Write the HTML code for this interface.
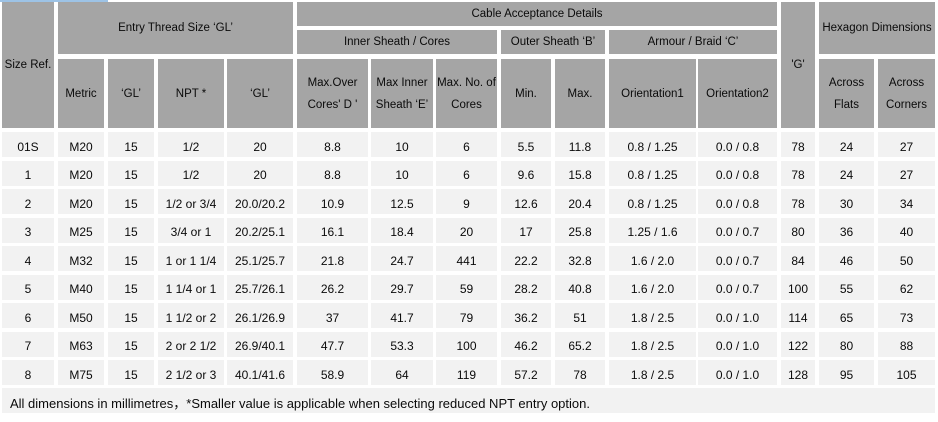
<!DOCTYPE html>
<html><head><meta charset="utf-8"><style>
body{margin:0;background:#fff;width:938px;height:422px;position:relative;overflow:hidden;font-family:"Liberation Sans",sans-serif;color:#0a0a0a}
.c{position:absolute;display:flex;align-items:center;justify-content:center;text-align:center;box-sizing:border-box}
.h{background:#a5a5a5;font-size:11.5px;line-height:22px}
.r{position:absolute;left:0;width:938px;height:25px}
.r .c{top:0;height:25px;background:#f2f2f2;font-size:12px;padding-top:4px}
.k0{left:2px;width:52px}.k1{left:58px;width:46px}.k2{left:108px;width:46px}.k3{left:158px;width:66px}.k4{left:227px;width:66px}
.k5{left:297px;width:71px}.k6{left:371px;width:62px}.k7{left:436px;width:61px}.k8{left:501px;width:50px}.k9{left:555px;width:50px}
.k10{left:609px;width:87px}.k11{left:698px;width:79px}.k12{left:781px;width:34px}.k13{left:819px;width:55px}.k14{left:878px;width:57px}
</style></head><body>
<div style="position:absolute;left:0;top:0;width:108px;height:2px;background:#9dc3e6"></div>
<div class="c h k0" style="top:2px;height:126px">Size Ref.</div>
<div class="c h" style="left:58px;width:235px;top:2px;height:52px">Entry Thread Size ‘GL’</div>
<div class="c h" style="left:297px;width:480px;top:2px;height:24px">Cable Acceptance Details</div>
<div class="c h" style="left:297px;width:200px;top:30px;height:24px">Inner Sheath / Cores</div>
<div class="c h" style="left:501px;width:104px;top:30px;height:24px">Outer Sheath ‘B’</div>
<div class="c h" style="left:609px;width:168px;top:30px;height:24px">Armour / Braid ‘C’</div>
<div class="c h k12" style="top:2px;height:126px">'G'</div>
<div class="c h" style="left:819px;width:116px;top:2px;height:52px">Hexagon Dimensions</div>
<div class="c h k1" style="top:59px;height:69px">Metric</div>
<div class="c h k2" style="top:59px;height:69px">‘GL’</div>
<div class="c h k3" style="top:59px;height:69px">NPT *</div>
<div class="c h k4" style="top:59px;height:69px">‘GL’</div>
<div class="c h k5" style="top:59px;height:69px">Max.Over<br>Cores' D '</div>
<div class="c h k6" style="top:59px;height:69px">Max Inner<br>Sheath ‘E’</div>
<div class="c h k7" style="top:59px;height:69px">Max. No. of<br>Cores</div>
<div class="c h k8" style="top:59px;height:69px">Min.</div>
<div class="c h k9" style="top:59px;height:69px">Max.</div>
<div class="c h k10" style="top:59px;height:69px">Orientation1</div>
<div class="c h k11" style="top:59px;height:69px">Orientation2</div>
<div class="c h k13" style="top:59px;height:69px">Across<br>Flats</div>
<div class="c h k14" style="top:59px;height:69px">Across<br>Corners</div>

<div class="r" style="top:132px"><div class="c k0">01S</div><div class="c k1">M20</div><div class="c k2">15</div><div class="c k3">1/2</div><div class="c k4">20</div><div class="c k5">8.8</div><div class="c k6">10</div><div class="c k7">6</div><div class="c k8">5.5</div><div class="c k9">11.8</div><div class="c k10">0.8 / 1.25</div><div class="c k11">0.0 / 0.8</div><div class="c k12">78</div><div class="c k13">24</div><div class="c k14">27</div></div>
<div class="r" style="top:160.5px"><div class="c k0">1</div><div class="c k1">M20</div><div class="c k2">15</div><div class="c k3">1/2</div><div class="c k4">20</div><div class="c k5">8.8</div><div class="c k6">10</div><div class="c k7">6</div><div class="c k8">9.6</div><div class="c k9">15.8</div><div class="c k10">0.8 / 1.25</div><div class="c k11">0.0 / 0.8</div><div class="c k12">78</div><div class="c k13">24</div><div class="c k14">27</div></div>
<div class="r" style="top:189px"><div class="c k0">2</div><div class="c k1">M20</div><div class="c k2">15</div><div class="c k3">1/2 or 3/4</div><div class="c k4">20.0/20.2</div><div class="c k5">10.9</div><div class="c k6">12.5</div><div class="c k7">9</div><div class="c k8">12.6</div><div class="c k9">20.4</div><div class="c k10">0.8 / 1.25</div><div class="c k11">0.0 / 0.8</div><div class="c k12">78</div><div class="c k13">30</div><div class="c k14">34</div></div>
<div class="r" style="top:217.5px"><div class="c k0">3</div><div class="c k1">M25</div><div class="c k2">15</div><div class="c k3">3/4 or 1</div><div class="c k4">20.2/25.1</div><div class="c k5">16.1</div><div class="c k6">18.4</div><div class="c k7">20</div><div class="c k8">17</div><div class="c k9">25.8</div><div class="c k10">1.25 / 1.6</div><div class="c k11">0.0 / 0.7</div><div class="c k12">80</div><div class="c k13">36</div><div class="c k14">40</div></div>
<div class="r" style="top:246px"><div class="c k0">4</div><div class="c k1">M32</div><div class="c k2">15</div><div class="c k3">1 or 1 1/4</div><div class="c k4">25.1/25.7</div><div class="c k5">21.8</div><div class="c k6">24.7</div><div class="c k7">441</div><div class="c k8">22.2</div><div class="c k9">32.8</div><div class="c k10">1.6 / 2.0</div><div class="c k11">0.0 / 0.7</div><div class="c k12">84</div><div class="c k13">46</div><div class="c k14">50</div></div>
<div class="r" style="top:274.5px"><div class="c k0">5</div><div class="c k1">M40</div><div class="c k2">15</div><div class="c k3">1 1/4 or 1</div><div class="c k4">25.7/26.1</div><div class="c k5">26.2</div><div class="c k6">29.7</div><div class="c k7">59</div><div class="c k8">28.2</div><div class="c k9">40.8</div><div class="c k10">1.6 / 2.0</div><div class="c k11">0.0 / 0.7</div><div class="c k12">100</div><div class="c k13">55</div><div class="c k14">62</div></div>
<div class="r" style="top:303px"><div class="c k0">6</div><div class="c k1">M50</div><div class="c k2">15</div><div class="c k3">1 1/2 or 2</div><div class="c k4">26.1/26.9</div><div class="c k5">37</div><div class="c k6">41.7</div><div class="c k7">79</div><div class="c k8">36.2</div><div class="c k9">51</div><div class="c k10">1.8 / 2.5</div><div class="c k11">0.0 / 1.0</div><div class="c k12">114</div><div class="c k13">65</div><div class="c k14">73</div></div>
<div class="r" style="top:331.5px"><div class="c k0">7</div><div class="c k1">M63</div><div class="c k2">15</div><div class="c k3">2 or 2 1/2</div><div class="c k4">26.9/40.1</div><div class="c k5">47.7</div><div class="c k6">53.3</div><div class="c k7">100</div><div class="c k8">46.2</div><div class="c k9">65.2</div><div class="c k10">1.8 / 2.5</div><div class="c k11">0.0 / 1.0</div><div class="c k12">122</div><div class="c k13">80</div><div class="c k14">88</div></div>
<div class="r" style="top:360px"><div class="c k0">8</div><div class="c k1">M75</div><div class="c k2">15</div><div class="c k3">2 1/2 or 3</div><div class="c k4">40.1/41.6</div><div class="c k5">58.9</div><div class="c k6">64</div><div class="c k7">119</div><div class="c k8">57.2</div><div class="c k9">78</div><div class="c k10">1.8 / 2.5</div><div class="c k11">0.0 / 1.0</div><div class="c k12">128</div><div class="c k13">95</div><div class="c k14">105</div></div>
<div class="c" style="left:2px;width:933px;top:388px;height:25px;background:#f2f2f2;justify-content:flex-start;padding-left:8px;padding-top:3px;font-size:13px">All dimensions in millimetres，*Smaller value is applicable when selecting reduced NPT entry option.</div>
</body></html>
